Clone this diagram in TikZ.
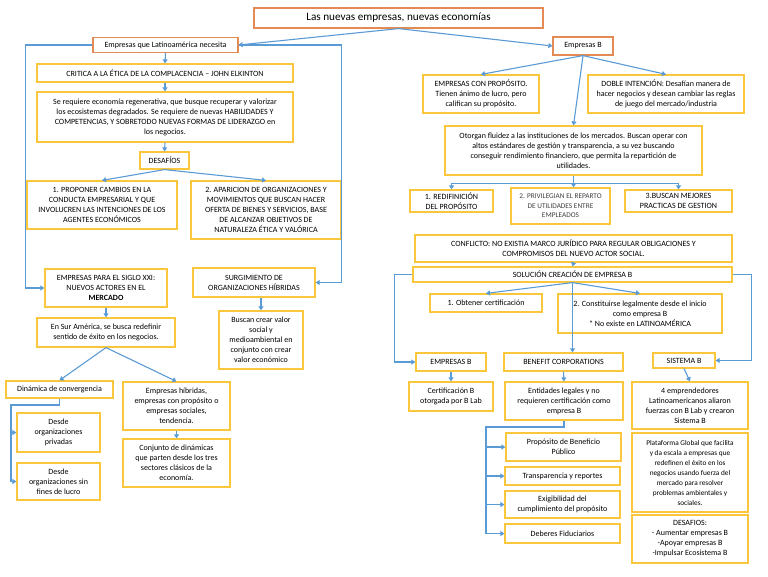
\documentclass[tikz,border=0pt]{standalone}
\usepackage{fontspec}
\setmainfont{Carlito}
\usetikzlibrary{arrows.meta}
\definecolor{amarillo}{HTML}{FAC63C}
\definecolor{naranja}{HTML}{E48A55}
\definecolor{azul}{HTML}{5B9BD5}
\begin{document}
\begin{tikzpicture}[x=1pt, y=-1pt,
       caja/.style={draw=amarillo, line width=1.2pt, fill=white, align=center,
             inner sep=1pt, font=\fontsize{8}{10}\selectfont},
       titulo/.style={draw=naranja, line width=1.2pt, fill=white, align=center, inner sep=1pt},
       linea/.style={draw=azul, line width=1.1pt},
       flecha/.style={linea, -{Triangle[width=5pt,length=4pt]}}]
\useasboundingbox (0,0) rectangle (768,576);
% columna izquierda
\node[titulo, minimum width=289, minimum height=20, font=\fontsize{11.2}{13}\selectfont] (titulo) at (398.5,18) {Las nuevas empresas, nuevas economías};
\node[titulo, minimum width=145, minimum height=15, font=\fontsize{8}{10}\selectfont] (latam) at (165.5,45) {Empresas que Latinoamérica necesita};
\node[caja, minimum width=256, minimum height=18] (critica) at (165,73) {CRITICA A LA ÉTICA DE LA COMPLACENCIA – JOHN ELKINTON};
\node[caja, minimum width=256, minimum height=50] (regenera) at (165,117) {Se requiere economía regenerativa, que busque recuperar y valorizar\\ los ecosistemas degradados. Se requiere de nuevas HABILIDADES Y\\ COMPETENCIAS, Y SOBRETODO NUEVAS FORMAS DE LIDERAZGO en\\ los negocios.};
\node[caja, minimum width=49, minimum height=17] (desafios) at (164.5,160.5) {DESAFÍOS};
\node[caja, minimum width=150, minimum height=48] (proponer) at (102,205) {1. PROPONER CAMBIOS EN LA\\ CONDUCTA EMPRESARIAL Y QUE\\ INVOLUCREN LAS INTENCIONES DE LOS\\ AGENTES ECONÓMICOS};
\node[caja, minimum width=150, minimum height=58] (aparicion) at (266,210) {2. APARICION DE ORGANIZACIONES Y\\ MOVIMIENTOS QUE BUSCAN HACER\\ OFERTA DE BIENES Y SERVICIOS, BASE\\ DE ALCANZAR OBJETIVOS DE\\ NATURALEZA ÉTICA Y VALÓRICA};
\node[caja, minimum width=122, minimum height=38] (siglo) at (106,288) {EMPRESAS PARA EL SIGLO XXI:\\ NUEVOS ACTORES EN EL\\ \textbf{MERCADO}};
\node[caja, minimum width=122, minimum height=29] (surgimiento) at (254,282.5) {SURGIMIENTO DE\\ ORGANIZACIONES HÍBRIDAS};
\node[caja, minimum width=138, minimum height=29] (suramerica) at (106,332.5) {En Sur América, se busca redefinir\\ sentido de éxito en los negocios.};
\node[caja, minimum width=84, minimum height=58] (crearvalor) at (261,340) {Buscan crear valor\\ social y\\ medioambiental en\\ conjunto con crear\\ valor económico};
\node[caja, minimum width=107, minimum height=17] (dinamica) at (59.5,389.5) {Dinámica de convergencia};
\node[caja, minimum width=107, minimum height=48] (hibridas) at (176.5,406) {Empresas híbridas,\\ empresas con propósito o\\ empresas sociales,\\ tendencia.};
\node[caja, minimum width=83, minimum height=39] (privadas) at (58.5,432.5) {Desde\\ organizaciones\\ privadas};
\node[caja, minimum width=83, minimum height=37] (sinfines) at (58.5,481.5) {Desde\\ organizaciones sin\\ fines de lucro};
\node[caja, minimum width=107, minimum height=48] (conjunto) at (176.5,463) {Conjunto de dinámicas\\ que parten desde los tres\\ sectores clásicos de la\\ economía.};
% columna derecha
\node[titulo, minimum width=60, minimum height=18, font=\fontsize{8}{10}\selectfont] (empb) at (583,46) {Empresas B};
\node[caja, minimum width=116, minimum height=38] (proposito) at (481,94) {EMPRESAS CON PROPÓSITO.\\ Tienen ánimo de lucro, pero\\ califican su propósito.};
\node[caja, minimum width=156, minimum height=38] (doble) at (666,94) {DOBLE INTENCIÓN: Desafían manera de\\ hacer negocios y desean cambiar las reglas\\ de juego del mercado/industria};
\node[caja, minimum width=257, minimum height=49] (otorgan) at (573.5,150.5) {Otorgan fluidez a las instituciones de los mercados. Buscan operar con\\ altos estándares de gestión y transparencia, a su vez buscando\\ conseguir rendimiento financiero, que permita la repartición de\\ utilidades.};
\node[caja, minimum width=83, minimum height=22] (redef) at (451.5,201) {1. REDIFINICIÓN\\ DEL PROPÓSITO};
\node[caja, minimum width=99, minimum height=36, font=\fontsize{7.3}{9.5}\selectfont, text=black!75] (reparto) at (560.5,206) {2. PRIVILEGIAN EL REPARTO\\ DE UTILIDADES ENTRE\\ EMPLEADOS};
\node[caja, minimum width=107, minimum height=22] (practicas) at (678.5,201) {3.BUSCAN MEJORES\\ PRACTICAS DE GESTION};
\node[caja, minimum width=317, minimum height=27] (conflicto) at (573.5,248.5) {CONFLICTO: NO EXISTIA MARCO JURÍDICO PARA REGULAR OBLIGACIONES Y\\ COMPROMISOS DEL NUEVO ACTOR SOCIAL.};
\node[caja, minimum width=319, minimum height=15] (solucion) at (572.5,274.5) {SOLUCIÓN CREACIÓN DE EMPRESA B};
\node[caja, minimum width=112, minimum height=18] (certificar) at (486,303) {1. Obtener certificación};
\node[caja, minimum width=164, minimum height=39] (constituir) at (640,313.5) {2. Constituirse legalmente desde el inicio\\ como empresa B\\ * No existe en LATINOAMÉRICA};
\node[caja, minimum width=70, minimum height=18] (empresasb) at (451,362) {EMPRESAS B};
\node[caja, minimum width=119, minimum height=18] (benefit) at (563.5,362) {BENEFIT CORPORATIONS};
\node[caja, minimum width=62, minimum height=15] (sistemab) at (684,360.5) {SISTEMA B};
\node[caja, minimum width=84, minimum height=29] (blab) at (451,396.5) {Certificación B\\ otorgada por B Lab};
\node[caja, minimum width=118, minimum height=38] (entidades) at (564,401) {Entidades legales y no\\ requieren certificación como\\ empresa B};
\node[caja, minimum width=115, minimum height=28] (publico) at (563.5,447) {Propósito de Beneficio\\ Público};
\node[caja, minimum width=115, minimum height=18] (reportes) at (562.5,476) {Transparencia y reportes};
\node[caja, minimum width=115, minimum height=27] (exigible) at (562.5,504.5) {Exigibilidad del\\ cumplimiento del propósito};
\node[caja, minimum width=115, minimum height=19] (fiduciarios) at (562.5,533.5) {Deberes Fiduciarios};
\node[caja, minimum width=116, minimum height=47] (emprendedores) at (690,405.5) {4 emprendedores\\ Latinoamericanos aliaron\\ fuerzas con B Lab y crearon\\ Sistema B};
\node[caja, minimum width=116, minimum height=79, font=\fontsize{7.3}{10}\selectfont] (plataforma) at (690,472.5) {Plataforma Global que facilita\\ y da escala a empresas que\\ redefinen el éxito en los\\ negocios usando fuerza del\\ mercado para resolver\\ problemas ambientales y\\ sociales.};
\node[caja, minimum width=116, minimum height=48] (retos) at (690,539) {DESAFIOS:\\ - Aumentar empresas B\\ -Apoyar empresas B\\ -Impulsar Ecosistema B};
% conectores izquierda
\draw[flecha] (titulo.south) -- (latam.east);
\draw[flecha] (titulo.south) -- (empb.west);
\draw[flecha] (latam.west) -- ++(-67,0) |- (siglo.west);
\draw[flecha] (latam.east) -- ++(103,0) |- (surgimiento.east);
\draw[flecha] (latam.south) -- (critica.north);
\draw[flecha] (critica.south) -- (regenera.north);
\draw[flecha] (regenera.south) -- (desafios.north);
\draw[flecha] (desafios.south) -- (proponer.north);
\draw[flecha] (desafios.south) -- (aparicion.north);
\draw[flecha] (siglo.south) -- (suramerica.north);
\draw[flecha] (crearvalor.north |- surgimiento.south) -- (crearvalor.north);
\draw[flecha] (suramerica.south) -- (dinamica.north);
\draw[flecha] (suramerica.south) -- (hibridas.north);
\draw[flecha] (hibridas.south) -- (conjunto.north);
\coordinate (ramaL) at (11,405);
\draw[flecha] (dinamica.south) |- (ramaL) |- (sinfines.west);
\draw[flecha] (ramaL) |- (privadas.west);
% conectores derecha
\draw[flecha] (empb.south) -- (proposito.north);
\draw[flecha] (empb.south) -- (doble.north);
\draw[flecha] (empb.south) -- (otorgan.north);
\draw[flecha] (otorgan.south) -- (otorgan.south |- reparto.north);
\draw[flecha] (otorgan.south) ++(0,8) -| (redef.north);
\draw[flecha] (otorgan.south) ++(0,8) -| (practicas.north);
\draw[flecha] (conflicto.south) -- (solucion.north);
\draw[flecha] (solucion.south) -- (certificar.north);
\draw[flecha] (solucion.south) -- (constituir.north);
\draw[flecha] (solucion.south) -- (solucion.south |- benefit.north);
\draw[flecha] (solucion.west) -- ++(-18,0) |- (empresasb.west);
\draw[flecha] (solucion.east) -- ++(19,0) |- (sistemab.east);
\draw[flecha] (empresasb.south) -- (blab.north);
\draw[flecha] (benefit.south) -- (entidades.north);
\draw[flecha] (sistemab.south) -- (emprendedores.north);
\coordinate (ramaR) at (486,427);
\draw[flecha] (entidades.south) |- (ramaR) |- (fiduciarios.west);
\draw[flecha] (ramaR) |- (publico.west);
\draw[flecha] (ramaR) |- (reportes.west);
\draw[flecha] (ramaR) |- (exigible.west);
\end{tikzpicture}
\end{document}
